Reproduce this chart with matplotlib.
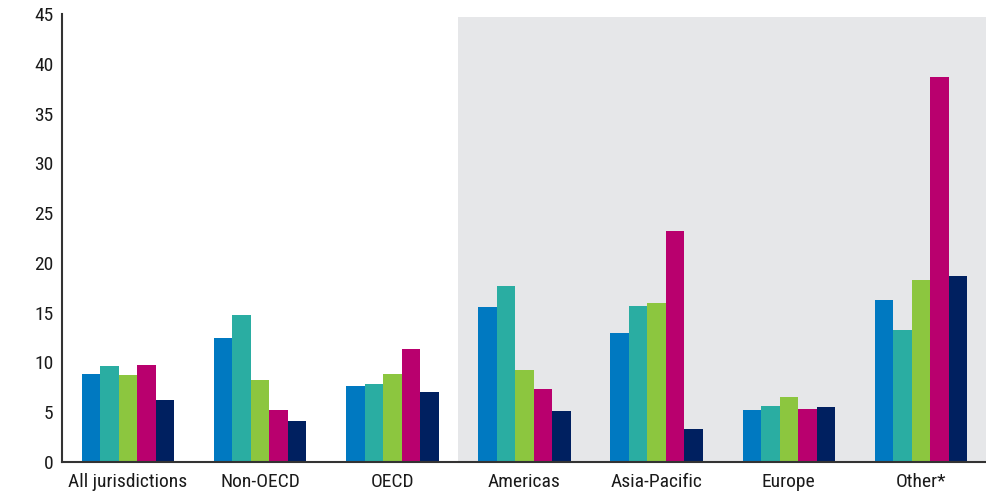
import matplotlib
matplotlib.use("Agg")
import matplotlib.pyplot as plt
import numpy as np
from matplotlib import font_manager

categories = ["All jurisdictions", "Non-OECD", "OECD", "Americas", "Asia-Pacific", "Europe", "Other*"]
series1 = [8.8, 12.5, 7.6, 15.6, 13.0, 5.25, 16.3]
series2 = [9.6, 14.8, 7.8, 17.7, 15.7, 5.65, 13.3]
series3 = [8.7, 8.2, 8.8, 9.2, 16.0, 6.5, 18.3]
series4 = [9.7, 5.2, 11.4, 7.35, 23.2, 5.35, 38.7]
series5 = [6.25, 4.1, 7.0, 5.15, 3.3, 5.55, 18.7]
yticks = [0, 5, 10, 15, 20, 25, 30, 35, 40, 45]

colors = ["#0079C1", "#2AADA2", "#8CC63F", "#B9006E", "#002060"]

names = {f.name for f in font_manager.fontManager.ttflist}
fam = "Liberation Sans"
size = 13
for cand in ["Liberation Sans Narrow", "Roboto Condensed", "Open Sans Condensed"]:
    if cand in names:
        fam = cand
        size = 14
        break
plt.rcParams["font.family"] = [fam, "DejaVu Sans"]

fig = plt.figure(figsize=(9.87, 4.94), dpi=100)
ax = fig.add_axes([62/987, 32/494, (987-62)/987, (462-14)/494])

x = np.arange(len(categories))
w = 0.14
allser = [series1, series2, series3, series4, series5]
for i, (s, c) in enumerate(zip(allser, colors)):
    ax.bar(x + (i - 2) * w, s, width=w, color=c, edgecolor="none", zorder=3)

ax.axvspan(2.5, 6.5, ymin=0, ymax=(44.7)/45, color="#E6E7E9", zorder=0, lw=0)

ax.set_xlim(-0.5, 6.5)
ax.set_ylim(0, 45)
ax.set_yticks(yticks)
ax.set_xticks(x)
ax.set_xticklabels(categories)
ax.tick_params(axis="both", length=0, labelsize=size, colors="#1a1a1a", pad=6)
ax.tick_params(axis="x", pad=8)
for sp in ["top", "right"]:
    ax.spines[sp].set_visible(False)
ax.spines["left"].set_color("#333333")
ax.spines["bottom"].set_color("#333333")
ax.spines["left"].set_linewidth(1.5)
ax.spines["bottom"].set_linewidth(1.5)
ax.spines["bottom"].set_zorder(4)

fig.savefig("out.png", dpi=100)
